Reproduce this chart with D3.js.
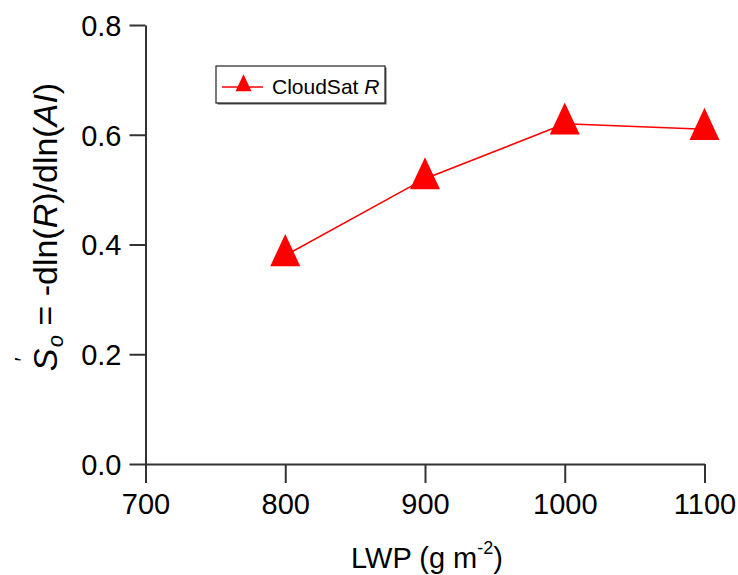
<!DOCTYPE html>
<html>
<head>
<meta charset="utf-8">
<script src="https://cdn.jsdelivr.net/npm/d3@7"></script>
<style>
  html, body { margin: 0; padding: 0; background: #fff; }
  svg { display: block; font-family: "Liberation Sans", Arial, sans-serif; }
</style>
</head>
<body>
<svg id="chart" width="738" height="575"></svg>
<script>
// ---- data ----
const lwp = [800, 900, 1000, 1100];
const slope = [0.38, 0.52, 0.62, 0.61];
const xTicks = [700, 800, 900, 1000, 1100];
const yTicks = [0.0, 0.2, 0.4, 0.6, 0.8];
const seriesName = "CloudSat";
const seriesNameItalic = "R";

(function () {
const svg = d3.select("#chart");
const pLeft = 145.5, pRight = 704.5, pTop = 25, pBottom = 464;

const x = d3.scaleLinear().domain([700, 1100]).range([pLeft, pRight]);
const y = d3.scaleLinear().domain([0, 0.8]).range([pBottom, pTop]);

const axisColor = "#333";

// x axis
const gx = svg.append("g").attr("transform", `translate(0,${pBottom})`)
  .call(d3.axisBottom(x).tickValues(xTicks).tickFormat(d3.format("d"))
    .tickSize(19).tickSizeOuter(0).tickPadding(10));
gx.select(".domain").attr("stroke", axisColor).attr("stroke-width", 2);
gx.selectAll(".tick line").attr("stroke", axisColor).attr("stroke-width", 2);
gx.selectAll(".tick text").attr("font-size", 29).attr("fill", "#000")
  .attr("font-family", "Liberation Sans, Arial, sans-serif");

// y axis
const gy = svg.append("g").attr("transform", `translate(${pLeft},0)`)
  .call(d3.axisLeft(y).tickValues(yTicks).tickFormat(d3.format(".1f"))
    .tickSize(16).tickSizeOuter(0).tickPadding(8));
gy.select(".domain").attr("stroke", axisColor).attr("stroke-width", 2);
gy.selectAll(".tick line").attr("stroke", axisColor).attr("stroke-width", 2);
gy.selectAll(".tick text").attr("font-size", 29).attr("fill", "#000")
  .attr("dy", "0.36em")
  .attr("font-family", "Liberation Sans, Arial, sans-serif");

// x axis title
const xt = svg.append("text")
  .attr("x", (pLeft + pRight) / 2 + 2).attr("y", 568)
  .attr("text-anchor", "middle").attr("font-size", 29).attr("fill", "#000");
xt.append("tspan").text("LWP (g m");
xt.append("tspan").attr("font-size", 18).attr("dy", -14).text("-2");
xt.append("tspan").attr("dy", 14).text(")");

// y axis title
const yt = svg.append("text")
  .attr("transform", `translate(57,${227}) rotate(-90)`)
  .attr("text-anchor", "middle").attr("font-size", 34).attr("fill", "#000");
yt.append("tspan").attr("font-style", "italic").text("S");
yt.append("tspan").attr("font-size", 22).attr("dx", -13).attr("dy", -27).text("\u2032");
yt.append("tspan").attr("font-size", 22).attr("font-style", "italic").attr("dx", 10).attr("dy", 33).text("o");
yt.append("tspan").attr("dy", -6).text(" = -dln(");
yt.append("tspan").attr("font-style", "italic").text("R");
yt.append("tspan").text(")/dln(");
yt.append("tspan").attr("font-style", "italic").text("AI");
yt.append("tspan").text(")");

// triangle marker (centroid at data point)
function tri(s) {
  const h = s * 1.07;
  return `M0,${-h * 2 / 3}L${s / 2},${h / 3}L${-s / 2},${h / 3}Z`;
}

const pts = lwp.map((d, i) => [d, slope[i]]);
svg.append("path")
  .datum(pts)
  .attr("fill", "none").attr("stroke", "#ff0000").attr("stroke-width", 1.6)
  .attr("d", d3.line().x(d => x(d[0])).y(d => y(d[1])));

svg.selectAll("path.mk").data(pts).join("path")
  .attr("class", "mk")
  .attr("transform", d => `translate(${x(d[0])},${y(d[1])})`)
  .attr("d", tri(30)).attr("fill", "#ff0000");

// legend
const lg = svg.append("g");
lg.append("rect").attr("x", 217.5).attr("y", 67.5).attr("width", 169).attr("height", 37)
  .attr("fill", "#555");
lg.append("rect").attr("x", 216).attr("y", 66).attr("width", 169).attr("height", 37)
  .attr("fill", "#fff").attr("stroke", "#222").attr("stroke-width", 1.2);
lg.append("line").attr("x1", 222).attr("x2", 263).attr("y1", 87).attr("y2", 87)
  .attr("stroke", "#ff0000").attr("stroke-width", 1.6);
lg.append("path").attr("transform", "translate(243.5,85.6)").attr("d", tri(16)).attr("fill", "#ff0000");
const lt = lg.append("text").attr("x", 272).attr("y", 94).attr("font-size", 21).attr("fill", "#000");
lt.append("tspan").text(seriesName + " ");
lt.append("tspan").attr("font-style", "italic").text(seriesNameItalic);
})();
</script>
</body>
</html>
